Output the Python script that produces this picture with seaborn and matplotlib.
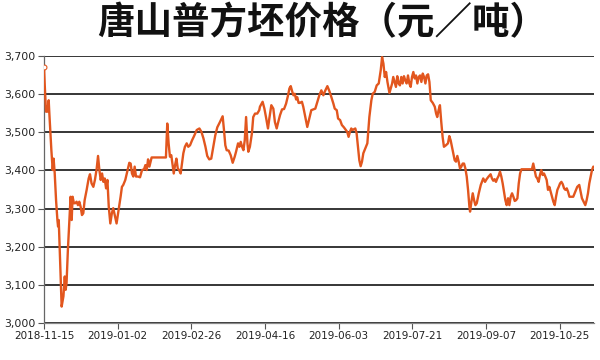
import matplotlib
matplotlib.use("Agg")
import matplotlib.pyplot as plt
import seaborn as sns
import pandas as pd

# trading-day index and price (元/吨)
day = [0, 0.3, 0.9, 1.5, 2.1, 2.4, 3.3, 3.9, 4.3, 4.8, 5.4, 6.0, 6.3, 6.6, 7.9, 8.7, 9.3, 9.7,
       10.1, 10.7, 11.3, 11.9, 12.4, 12.8, 13.4, 14.0, 14.6, 15.2, 15.8, 16.4, 17.0, 17.6, 18.2,
       19.1, 20.0, 20.6, 21.3, 22.1, 22.8, 23.6, 24.2, 24.8, 25.4, 26.0, 26.6, 27.2, 27.8, 28.4,
       29.0, 29.7, 30.4, 31.0, 31.8, 32.5, 33.4, 34.3, 34.9, 35.5, 36.4, 37.3, 38.2, 38.8, 39.4,
       40.0, 40.6, 41.2, 42.1, 43.0, 43.9, 44.8, 45.4, 46.0, 46.6, 47.2,
       48.2, 54.6, 55.2, 55.8, 56.4, 57.0, 57.5, 58.1, 58.7, 59.3, 59.9, 60.5, 61.2, 61.8, 62.4,
       63.1, 63.9, 64.6, 65.4, 66.3, 67.2, 68.4, 69.6, 70.5, 71.4, 72.3, 73.1, 74.0, 74.9, 75.8,
       76.7, 77.6, 78.8, 80.0, 80.6, 81.2, 81.8, 82.7, 83.6, 84.5, 85.4, 86.0, 86.9, 87.5, 88.1,
       88.7, 89.3, 89.9, 90.5, 91.1, 91.5, 92.2, 93.1, 93.7, 94.5, 95.5, 96.4,
       96.7, 97.9, 98.7, 99.4, 100.3, 100.9, 101.8, 102.7, 103.4, 104.2, 104.9, 105.7, 106.6,
       107.5, 108.4, 109.3, 109.9, 110.5, 111.1, 111.7, 112.3, 112.9, 113.4, 114.0, 114.6, 115.5,
       116.1, 117.0, 117.9, 118.8, 119.7, 120.6, 121.5, 122.4, 123.3, 124.2, 125.1, 126.0, 126.9,
       127.8, 128.7, 129.6, 130.2, 131.1, 131.7, 132.6, 133.4, 134.3, 135.2, 135.8, 136.4, 137.0,
       137.6, 138.2, 139.4, 140.0, 140.6, 141.2, 141.8, 142.4, 143.0, 143.9, 144.8, 145.7,
       146.6, 147.2, 148.1, 149.0, 149.9, 150.8, 151.4, 152.0, 152.6, 153.2, 153.8, 154.7, 155.3,
       155.9, 156.4, 157.0, 157.6, 158.2, 158.8, 159.4, 160.0, 160.6, 161.2, 161.8, 162.4, 163.0,
       163.6, 164.2, 164.8, 165.4, 166.0, 166.6, 167.2, 167.8, 168.4, 169.0, 169.6, 170.2, 170.8,
       171.4, 172.0, 172.6, 173.2, 174.1, 175.0, 175.6, 176.1, 176.7, 177.3, 177.9, 178.5, 179.1,
       180.0, 180.9, 181.5, 182.1, 182.7, 183.3, 183.9, 184.5, 185.1, 185.7, 186.3, 186.9, 187.5,
       188.1, 188.7, 189.3, 189.9, 190.5, 190.8, 191.4, 192.0, 192.6, 193.2, 193.8, 194.7, 195.6,
       196.1, 196.7, 197.5, 198.2, 199.1, 200.0, 200.6, 201.2, 201.8, 202.4, 203.0, 203.6, 204.2,
       204.8, 205.4, 206.0, 206.6, 207.2, 207.8, 208.4, 209.0, 209.6, 210.2, 210.8, 211.4, 212.0,
       212.6, 213.2, 213.8, 218.5, 219.1, 219.7, 220.3, 220.9, 221.5, 222.1, 222.7, 223.3, 223.9,
       224.5, 225.1, 225.7, 226.3, 226.9, 227.5, 228.1, 228.7, 229.3, 229.9, 230.5, 231.1, 231.7,
       232.3, 232.9, 233.5, 234.1, 234.7, 235.3, 237.0, 237.9, 238.8, 239.7, 240.3, 240.9, 241.8,
       242.4, 243.0, 243.6, 244.2, 244.8, 245.4, 246.0]

price = [3671, 3628, 3554, 3554, 3584, 3549, 3453, 3401, 3431, 3392, 3322, 3270, 3253, 3270,
         3043, 3070, 3122, 3087, 3105, 3192, 3261, 3331, 3270, 3331, 3314, 3314, 3318, 3309,
         3318, 3305, 3283, 3288, 3322, 3349, 3379, 3390, 3366, 3357, 3375, 3405, 3438, 3401,
         3375, 3392, 3370, 3379, 3353, 3375, 3305, 3261, 3288, 3301, 3279, 3261, 3296, 3331,
         3357, 3362, 3375, 3397, 3420, 3418, 3392, 3384, 3410, 3384, 3384, 3382, 3401, 3403,
         3414, 3401, 3429, 3410,
         3434, 3434, 3523, 3471, 3436, 3440, 3418, 3392, 3414, 3431, 3405, 3401, 3392, 3418,
         3445, 3462, 3471, 3462, 3466, 3479, 3490, 3506, 3510, 3501, 3484, 3462, 3438, 3429,
         3431, 3462, 3492, 3513, 3527, 3542, 3506, 3466, 3453, 3452, 3440, 3420, 3436, 3449,
         3471, 3462, 3475, 3462, 3453, 3479, 3540, 3471, 3449, 3462, 3497, 3540, 3549, 3549,
         3558,
         3567, 3580, 3562, 3540, 3510, 3536, 3571, 3562, 3527, 3510, 3527, 3545, 3560, 3561,
         3575, 3597, 3615, 3621, 3608, 3597, 3601, 3586, 3592, 3577, 3577, 3580, 3567, 3540,
         3514, 3536, 3558, 3560, 3562, 3580, 3597, 3610, 3597, 3610, 3621, 3608, 3592, 3575,
         3562, 3558, 3536, 3532, 3519, 3513, 3506, 3501, 3488, 3501, 3510, 3506, 3510, 3497,
         3462, 3427, 3411, 3423, 3445, 3458, 3471, 3540,
         3584, 3601, 3606, 3623, 3628, 3663, 3697, 3680, 3645, 3658, 3632, 3603, 3615, 3628,
         3645, 3632, 3619, 3647, 3628, 3623, 3645, 3628, 3647, 3636, 3628, 3649, 3628, 3619,
         3645, 3658, 3641, 3649, 3628, 3645, 3649, 3632, 3654, 3645, 3628, 3649, 3652, 3632,
         3584, 3577, 3567, 3549, 3540, 3558, 3571, 3527, 3488, 3462, 3466, 3471, 3490, 3479,
         3462, 3445, 3427, 3423, 3438, 3423, 3405, 3410, 3418, 3418, 3405, 3384, 3349, 3305,
         3292, 3318, 3340, 3322, 3309, 3314, 3340, 3362, 3370, 3379, 3370, 3377, 3384, 3390,
         3379, 3373, 3377, 3370, 3379, 3386, 3397, 3384, 3366, 3344, 3322, 3309, 3327, 3309,
         3331, 3340, 3331, 3320, 3322, 3327, 3366, 3392, 3403, 3403, 3418, 3401, 3384, 3379,
         3370, 3388, 3401, 3388, 3392, 3384, 3375, 3349, 3357, 3344, 3331, 3318, 3309, 3331,
         3349, 3357, 3366, 3370, 3364, 3353, 3349, 3353, 3344, 3331, 3331, 3344, 3357, 3362,
         3344, 3327, 3316, 3309, 3322, 3340, 3366, 3384, 3401, 3410]

tick_pos = [0, 33, 66, 99, 132, 165, 198, 231]
tick_labels = ["2018-11-15", "2019-01-02", "2019-02-26", "2019-04-16",
               "2019-06-03", "2019-07-21", "2019-09-07", "2019-10-25"]
y_ticks = [3000, 3100, 3200, 3300, 3400, 3500, 3600, 3700]
y_labels = ["3,000", "3,100", "3,200", "3,300", "3,400", "3,500", "3,600", "3,700"]
title = "唐山普方坯价格（元／吨）"

sns.set_style("white")
plt.rcParams['font.family'] = ['DejaVu Sans', 'Noto Sans CJK SC']

df = pd.DataFrame({"day": day, "price": price})

fig = plt.figure(figsize=(6, 3.6), dpi=100)
ax = fig.add_axes([44 / 600, 1 - 323 / 360, 550 / 600, 267 / 360])

for yv in y_ticks:
    ax.axhline(yv, color="black", lw=1.1, zorder=1)

sns.lineplot(data=df, x="day", y="price", ax=ax, color="#E2561E", lw=1.7,
             zorder=3, sort=False)
ax.plot(day[0], price[0], marker="o", ms=3.5, mfc="white", mec="#E2561E",
        mew=0.8, zorder=4)

ax.set_xlim(0, 246.3)
ax.set_ylim(3000, 3700)
ax.set_xticks(tick_pos)
ax.set_xticklabels(tick_labels, fontsize=7.5, color="#222222")
ax.set_yticks(y_ticks)
ax.set_yticklabels(y_labels, fontsize=7.8, color="#222222")
ax.set_xlabel("")
ax.set_ylabel("")
ax.tick_params(axis="both", which="both", direction="out", length=4, width=0.8,
               color="#555555", bottom=True, left=True, pad=2)

for s in ["top", "right"]:
    ax.spines[s].set_visible(False)
ax.spines["left"].set_color("#666666")
ax.spines["bottom"].set_color("#888888")
ax.spines["left"].set_linewidth(0.9)
ax.spines["bottom"].set_linewidth(0.9)

fig.text(0.537, 0.938, title, ha="center", va="center", fontsize=27,
         fontweight="bold", family=["Noto Sans CJK SC", "DejaVu Sans"], color="#111111")

fig.savefig("out.png", dpi=100, facecolor="white")
